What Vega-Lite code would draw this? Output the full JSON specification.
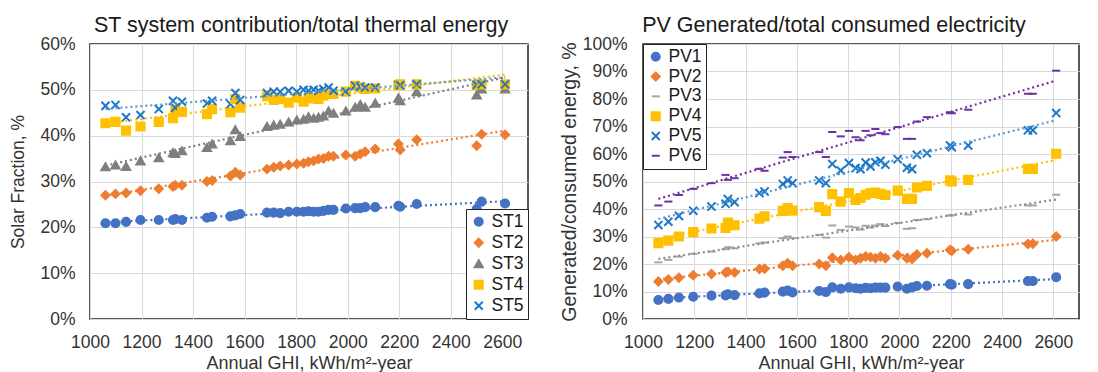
{
  "$schema": "https://vega.github.io/schema/vega-lite/v6.json",
  "background": "white",
  "padding": {"left": 9, "top": 14, "right": 5, "bottom": 0},
  "spacing": 115,
  "bounds": "flush",
  "datasets": {
    "st": [
      {"ghi":1060,"ST1":0.209,"ST2":0.270,"ST3":0.332,"ST4":0.427,"ST5":0.465},
      {"ghi":1099,"ST1":0.209,"ST2":0.273,"ST3":0.336,"ST4":0.430,"ST5":0.467},
      {"ghi":1140,"ST1":0.212,"ST2":0.275,"ST3":0.333,"ST4":0.411,"ST5":0.440},
      {"ghi":1196,"ST1":0.216,"ST2":0.280,"ST3":0.345,"ST4":0.420,"ST5":0.445},
      {"ghi":1267,"ST1":0.216,"ST2":0.284,"ST3":0.352,"ST4":0.430,"ST5":0.458},
      {"ghi":1322,"ST1":0.216,"ST2":0.289,"ST3":0.363,"ST4":0.438,"ST5":0.476},
      {"ghi":1331,"ST1":0.218,"ST2":0.292,"ST3":0.361,"ST4":0.456,"ST5":0.461},
      {"ghi":1357,"ST1":0.216,"ST2":0.292,"ST3":0.367,"ST4":0.452,"ST5":0.474},
      {"ghi":1454,"ST1":0.221,"ST2":0.300,"ST3":0.374,"ST4":0.447,"ST5":0.470},
      {"ghi":1474,"ST1":0.223,"ST2":0.302,"ST3":0.382,"ST4":0.458,"ST5":0.476},
      {"ghi":1545,"ST1":0.224,"ST2":0.312,"ST3":0.389,"ST4":0.451,"ST5":0.469},
      {"ghi":1564,"ST1":0.226,"ST2":0.320,"ST3":0.413,"ST4":0.480,"ST5":0.493},
      {"ghi":1583,"ST1":0.229,"ST2":0.314,"ST3":0.398,"ST4":0.461,"ST5":0.478},
      {"ghi":1687,"ST1":0.232,"ST2":0.327,"ST3":0.420,"ST4":0.486,"ST5":0.493},
      {"ghi":1713,"ST1":0.232,"ST2":0.331,"ST3":0.423,"ST4":0.478,"ST5":0.496},
      {"ghi":1738,"ST1":0.231,"ST2":0.334,"ST3":0.425,"ST4":0.480,"ST5":0.496},
      {"ghi":1771,"ST1":0.234,"ST2":0.336,"ST3":0.430,"ST4":0.472,"ST5":0.498},
      {"ghi":1803,"ST1":0.234,"ST2":0.338,"ST3":0.434,"ST4":0.483,"ST5":0.496},
      {"ghi":1829,"ST1":0.234,"ST2":0.340,"ST3":0.436,"ST4":0.474,"ST5":0.500},
      {"ghi":1848,"ST1":0.235,"ST2":0.343,"ST3":0.441,"ST4":0.483,"ST5":0.498},
      {"ghi":1868,"ST1":0.234,"ST2":0.345,"ST3":0.438,"ST4":0.481,"ST5":0.500},
      {"ghi":1887,"ST1":0.234,"ST2":0.349,"ST3":0.440,"ST4":0.480,"ST5":0.498},
      {"ghi":1906,"ST1":0.236,"ST2":0.350,"ST3":0.443,"ST4":0.487,"ST5":0.502},
      {"ghi":1926,"ST1":0.238,"ST2":0.355,"ST3":0.454,"ST4":0.491,"ST5":0.505},
      {"ghi":1945,"ST1":0.238,"ST2":0.355,"ST3":0.449,"ST4":0.491,"ST5":0.498},
      {"ghi":1993,"ST1":0.241,"ST2":0.358,"ST3":0.454,"ST4":0.496,"ST5":0.496},
      {"ghi":2029,"ST1":0.242,"ST2":0.355,"ST3":0.462,"ST4":0.509,"ST5":0.509},
      {"ghi":2049,"ST1":0.242,"ST2":0.360,"ST3":0.468,"ST4":0.505,"ST5":0.507},
      {"ghi":2068,"ST1":0.244,"ST2":0.365,"ST3":0.462,"ST4":0.502,"ST5":0.505},
      {"ghi":2107,"ST1":0.244,"ST2":0.371,"ST3":0.471,"ST4":0.503,"ST5":0.505},
      {"ghi":2197,"ST1":0.247,"ST2":0.382,"ST3":0.482,"ST4":0.510,"ST5":0.511},
      {"ghi":2204,"ST1":0.245,"ST2":0.369,"ST3":0.476,"ST4":0.512,"ST5":0.510},
      {"ghi":2268,"ST1":0.251,"ST2":0.391,"ST3":0.496,"ST4":0.512,"ST5":0.512},
      {"ghi":2501,"ST1":0.240,"ST2":0.378,"ST3":0.489,"ST4":0.510,"ST5":0.511},
      {"ghi":2520,"ST1":0.256,"ST2":0.403,"ST3":0.502,"ST4":0.512,"ST5":0.512},
      {"ghi":2611,"ST1":0.252,"ST2":0.402,"ST3":0.502,"ST4":0.512,"ST5":0.512}
    ],
    "pv": [
      {"ghi":1060,"PV1":0.069,"PV2":0.136,"PV3":0.206,"PV4":0.276,"PV5":0.342,"PV6":0.413},
      {"ghi":1099,"PV1":0.073,"PV2":0.144,"PV3":0.215,"PV4":0.285,"PV5":0.354,"PV6":0.427},
      {"ghi":1140,"PV1":0.078,"PV2":0.150,"PV3":0.227,"PV4":0.300,"PV5":0.375,"PV6":0.451},
      {"ghi":1196,"PV1":0.081,"PV2":0.159,"PV3":0.237,"PV4":0.316,"PV5":0.394,"PV6":0.473},
      {"ghi":1267,"PV1":0.085,"PV2":0.164,"PV3":0.245,"PV4":0.329,"PV5":0.409,"PV6":0.494},
      {"ghi":1322,"PV1":0.086,"PV2":0.169,"PV3":0.254,"PV4":0.331,"PV5":0.419,"PV6":0.524},
      {"ghi":1331,"PV1":0.090,"PV2":0.172,"PV3":0.261,"PV4":0.351,"PV5":0.436,"PV6":0.506},
      {"ghi":1357,"PV1":0.087,"PV2":0.169,"PV3":0.257,"PV4":0.341,"PV5":0.425,"PV6":0.512},
      {"ghi":1454,"PV1":0.093,"PV2":0.182,"PV3":0.275,"PV4":0.365,"PV5":0.458,"PV6":0.546},
      {"ghi":1474,"PV1":0.096,"PV2":0.183,"PV3":0.278,"PV4":0.373,"PV5":0.464,"PV6":0.539},
      {"ghi":1545,"PV1":0.0995,"PV2":0.194,"PV3":0.294,"PV4":0.393,"PV5":0.491,"PV6":0.587},
      {"ghi":1564,"PV1":0.103,"PV2":0.203,"PV3":0.300,"PV4":0.403,"PV5":0.504,"PV6":0.607},
      {"ghi":1583,"PV1":0.097,"PV2":0.194,"PV3":0.294,"PV4":0.394,"PV5":0.494,"PV6":0.589},
      {"ghi":1687,"PV1":0.102,"PV2":0.200,"PV3":0.306,"PV4":0.407,"PV5":0.504,"PV6":0.607},
      {"ghi":1713,"PV1":0.098,"PV2":0.194,"PV3":0.296,"PV4":0.393,"PV5":0.494,"PV6":0.589},
      {"ghi":1738,"PV1":0.115,"PV2":0.223,"PV3":0.340,"PV4":0.454,"PV5":0.564,"PV6":0.680},
      {"ghi":1771,"PV1":0.110,"PV2":0.215,"PV3":0.324,"PV4":0.427,"PV5":0.540,"PV6":0.664},
      {"ghi":1803,"PV1":0.115,"PV2":0.225,"PV3":0.336,"PV4":0.458,"PV5":0.567,"PV6":0.684},
      {"ghi":1829,"PV1":0.112,"PV2":0.215,"PV3":0.333,"PV4":0.433,"PV5":0.549,"PV6":0.661},
      {"ghi":1848,"PV1":0.110,"PV2":0.221,"PV3":0.325,"PV4":0.440,"PV5":0.545,"PV6":0.650},
      {"ghi":1868,"PV1":0.113,"PV2":0.227,"PV3":0.339,"PV4":0.452,"PV5":0.569,"PV6":0.684},
      {"ghi":1887,"PV1":0.112,"PV2":0.225,"PV3":0.333,"PV4":0.458,"PV5":0.555,"PV6":0.668},
      {"ghi":1906,"PV1":0.114,"PV2":0.221,"PV3":0.340,"PV4":0.460,"PV5":0.570,"PV6":0.691},
      {"ghi":1926,"PV1":0.114,"PV2":0.227,"PV3":0.345,"PV4":0.455,"PV5":0.575,"PV6":0.676},
      {"ghi":1945,"PV1":0.114,"PV2":0.221,"PV3":0.338,"PV4":0.451,"PV5":0.561,"PV6":0.672},
      {"ghi":1993,"PV1":0.118,"PV2":0.232,"PV3":0.349,"PV4":0.467,"PV5":0.581,"PV6":0.698},
      {"ghi":2029,"PV1":0.110,"PV2":0.221,"PV3":0.328,"PV4":0.437,"PV5":0.550,"PV6":0.655},
      {"ghi":2049,"PV1":0.115,"PV2":0.218,"PV3":0.330,"PV4":0.437,"PV5":0.545,"PV6":0.655},
      {"ghi":2068,"PV1":0.120,"PV2":0.235,"PV3":0.360,"PV4":0.478,"PV5":0.597,"PV6":0.718},
      {"ghi":2107,"PV1":0.121,"PV2":0.239,"PV3":0.363,"PV4":0.484,"PV5":0.603,"PV6":0.734},
      {"ghi":2197,"PV1":0.127,"PV2":0.251,"PV3":0.376,"PV4":0.504,"PV5":0.631,"PV6":0.752},
      {"ghi":2204,"PV1":0.125,"PV2":0.248,"PV3":0.378,"PV4":0.500,"PV5":0.625,"PV6":0.748},
      {"ghi":2268,"PV1":0.127,"PV2":0.254,"PV3":0.380,"PV4":0.506,"PV5":0.631,"PV6":0.761},
      {"ghi":2501,"PV1":0.138,"PV2":0.273,"PV3":0.413,"PV4":0.546,"PV5":0.686,"PV6":0.819},
      {"ghi":2520,"PV1":0.138,"PV2":0.274,"PV3":0.413,"PV4":0.546,"PV5":0.686,"PV6":0.819},
      {"ghi":2611,"PV1":0.152,"PV2":0.300,"PV3":0.452,"PV4":0.601,"PV5":0.749,"PV6":0.903}
    ]
  },
  "hconcat": [
    {
      "width": 438,
      "height": 275,
      "data": {"name": "st"},
      "transform": [{"fold": ["ST1","ST2","ST3","ST4","ST5"], "as": ["series","value"]}],
      "title": {"text": "ST system contribution/total thermal energy", "dx": -8},
      "encoding": {
        "x": {"field": "ghi", "type": "quantitative", "scale": {"domain": [1000,2700], "nice": false},
              "axis": {"values": [1000,1200,1400,1600,1800,2000,2200,2400,2600], "format": "d", "title": "Annual GHI, kWh/m²-year"}},
        "y": {"field": "value", "type": "quantitative", "scale": {"domain": [0,0.6], "nice": false},
              "axis": {"values": [0,0.1,0.2,0.3,0.4,0.5,0.6], "format": ".0%", "title": "Solar Fraction, %", "titlePadding": 12, "labelPadding": 15, "titleFontSize": 17.5}}
      },
      "layer": [
        {
          "mark": {"type": "point", "opacity": 1, "size": 66, "strokeWidth": 2},
          "encoding": {
            "shape": {"field": "series", "type": "nominal",
                      "scale": {"domain": ["ST1","ST2","ST3","ST4","ST5"], "range": ["circle","diamond","triangle-up","square","M-1,-1L1,1M1,-1L-1,1"]},
                      "legend": {"title": null, "orient": "bottom-right", "offset": 0, "rowPadding": 2}},
            "fill": {"field": "series", "type": "nominal",
                     "scale": {"domain": ["ST1","ST2","ST3","ST4","ST5"], "range": ["#4472C4","#ED7D31","#7F7F7F","#FFC000","#1F77C8"]},
                     "legend": {"title": null, "orient": "bottom-right", "offset": 0, "rowPadding": 2}},
            "stroke": {"field": "series", "type": "nominal",
                       "scale": {"domain": ["ST1","ST2","ST3","ST4","ST5"], "range": ["#4472C4","#ED7D31","#7F7F7F","#FFC000","#1F77C8"]},
                       "legend": {"title": null, "orient": "bottom-right", "offset": 0, "rowPadding": 2}}
          }
        },
        {
          "transform": [{"regression": "value", "on": "ghi", "groupby": ["series"]}],
          "mark": {"type": "line", "strokeDash": [2,3], "strokeWidth": 2.2},
          "encoding": {
            "color": {"field": "series", "type": "nominal",
                      "scale": {"domain": ["ST1","ST2","ST3","ST4","ST5"], "range": ["#4472C4","#ED7D31","#7F7F7F","#FFC000","#5B9BD5"]},
                      "legend": null}
          }
        }
      ]
    },
    {
      "width": 436,
      "height": 275,
      "data": {"name": "pv"},
      "transform": [{"fold": ["PV1","PV2","PV3","PV4","PV5","PV6"], "as": ["series","value"]}],
      "title": {"text": "PV Generated/total consumed electricity", "dx": -27},
      "encoding": {
        "x": {"field": "ghi", "type": "quantitative", "scale": {"domain": [1000,2700], "nice": false},
              "axis": {"values": [1000,1200,1400,1600,1800,2000,2200,2400,2600], "format": "d", "title": "Annual GHI, kWh/m²-year"}},
        "y": {"field": "value", "type": "quantitative", "scale": {"domain": [0,1], "nice": false},
              "axis": {"values": [0,0.1,0.2,0.3,0.4,0.5,0.6,0.7,0.8,0.9,1], "format": ".0%", "title": "Generated/consumed  energy, %", "titlePadding": 3, "labelPadding": 16, "titleFontSize": 19.5}}
      },
      "layer": [
        {
          "mark": {"type": "point", "opacity": 1, "size": 66, "strokeWidth": 2},
          "encoding": {
            "shape": {"field": "series", "type": "nominal",
                      "scale": {"domain": ["PV1","PV2","PV3","PV4","PV5","PV6"], "range": ["circle","diamond","M-1,0L1,0","square","M-1,-1L1,1M1,-1L-1,1","M-1,0L1,0"]},
                      "legend": {"title": null, "orient": "top-left", "offset": 0, "rowPadding": 0.8}},
            "fill": {"field": "series", "type": "nominal",
                     "scale": {"domain": ["PV1","PV2","PV3","PV4","PV5","PV6"], "range": ["#4472C4","#ED7D31","#A5A5A5","#FFC000","#1F77C8","#7030A0"]},
                     "legend": {"title": null, "orient": "top-left", "offset": 0, "rowPadding": 0.8}},
            "stroke": {"field": "series", "type": "nominal",
                       "scale": {"domain": ["PV1","PV2","PV3","PV4","PV5","PV6"], "range": ["#4472C4","#ED7D31","#A5A5A5","#FFC000","#1F77C8","#7030A0"]},
                       "legend": {"title": null, "orient": "top-left", "offset": 0, "rowPadding": 0.8}}
          }
        },
        {
          "transform": [{"regression": "value", "on": "ghi", "groupby": ["series"]}],
          "mark": {"type": "line", "strokeDash": [2,3], "strokeWidth": 2.2},
          "encoding": {
            "color": {"field": "series", "type": "nominal",
                      "scale": {"domain": ["PV1","PV2","PV3","PV4","PV5","PV6"], "range": ["#4472C4","#ED7D31","#8C8C8C","#FFC000","#5B9BD5","#7030A0"]},
                      "legend": null}
          }
        }
      ]
    }
  ],
  "resolve": {
    "scale": {"fill": "independent", "stroke": "independent", "shape": "independent", "color": "independent"}
  },
  "config": {
    "font": "Liberation Sans",
    "view": {"stroke": "#222222", "strokeWidth": 1.5},
    "axis": {
      "grid": true, "gridColor": "#d9d9d9", "gridWidth": 1,
      "domain": false, "ticks": false, "labelFlush": false,
      "labelFontSize": 17.5, "labelColor": "#333333", "labelPadding": 14,
      "titleFontSize": 18, "titleFontWeight": "normal", "titleColor": "#333333"
    },
    "axisX": {"titlePadding": 4},
    "title": {"fontSize": 21.5, "fontWeight": "normal", "color": "#1a1a1a", "offset": -1.5, "anchor": "middle", "frame": "group", "baseline": "alphabetic"},
    "legend": {
      "strokeColor": "#222222", "fillColor": "white", "padding": 4,
      "labelFontSize": 17.5, "labelColor": "#1a1a1a", "symbolSize": 64, "symbolStrokeWidth": 2,
      "labelOffset": 4
    }
  }
}
